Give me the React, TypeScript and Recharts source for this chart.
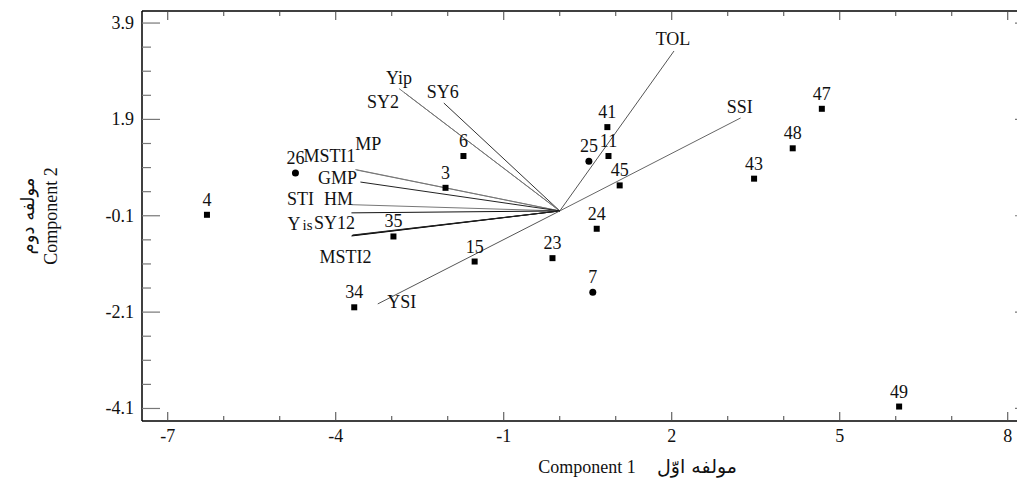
import React from 'react'
import { ScatterChart, Scatter, XAxis, YAxis } from 'recharts'

// genotype scores (component 1 / component 2)
const genotypes = ['4', '26', '6', '3', '35', '15', '23', '34', '41', '25', '11', '45', '24', '7', '43', '48', '47', '49']
const genoPc1 = [-6.3, -4.72, -1.72, -2.04, -2.97, -1.52, -0.13, -3.67, 0.85, 0.52, 0.87, 1.07, 0.66, 0.59, 3.47, 4.16, 4.68, 6.06]
const genoPc2 = [-0.08, 0.79, 1.14, 0.48, -0.53, -1.05, -0.98, -2.0, 1.74, 1.03, 1.14, 0.53, -0.37, -1.69, 0.67, 1.3, 2.12, -4.06]
const roundMarkers = ['26', '25', '7']

// index vectors (loadings)
const traits = ['TOL', 'SSI', 'Yip', 'SY6', 'SY2', 'MP', 'MSTI1', 'GMP', 'HM', 'STI', 'SY12', 'Yis', 'MSTI2', 'YSI']
const traitPc1 = [2.04, 3.23, -2.87, -2.07, -2.78, -3.65, -3.63, -3.56, -3.72, -3.72, -3.72, -3.71, -3.7, -3.25]
const traitPc2 = [3.32, 1.93, 2.54, 2.24, 2.46, 0.86, 0.85, 0.6, 0.13, -0.04, -0.52, -0.51, -0.5, -1.93]

const xTicks = [-7, -6, -5, -4, -3, -2, -1, 0, 1, 2, 3, 4, 5, 6, 7, 8]
const xMajor = [-7, -4, -1, 2, 5, 8]
const yTicks = [-4.1, -3.6, -3.1, -2.6, -2.1, -1.6, -1.1, -0.6, -0.1, 0.4, 0.9, 1.4, 1.9, 2.4, 2.9, 3.4, 3.9]
const yMajor = [-4.1, -2.1, -0.1, 1.9, 3.9]

// label placement (px) relative to the vector tip
const labelShift: Record<string, [number, number]> = {
  TOL: [-1, -6], SSI: [-1, -5], Yip: [0, -5], SY6: [-1, -5], SY2: [-21, 16],
  MP: [13, -20], MSTI1: [-27, -8], GMP: [-23, 2], HM: [-13, 0], STI: [-51, -8],
  SY12: [-17, -7], Yis: [-52, -6], MSTI2: [-7, 28], YSI: [24, 4],
}
const lineColor: Record<string, string> = {
  TOL: '#555', SSI: '#666', Yip: '#777', SY6: '#333', SY2: '#777', MP: '#888',
  MSTI1: '#777', GMP: '#222', HM: '#777', STI: '#111', SY12: '#000', Yis: '#111',
  MSTI2: '#222', YSI: '#555',
}

const serif = "'Liberation Serif', 'Times New Roman', serif"
const arabicFont = "'DejaVu Sans', 'Noto Sans', sans-serif"

const points = genotypes.map((id, i) => ({ id, x: genoPc1[i], y: genoPc2[i] }))
const vectors = traits.map((name, i) => [
  { x: 0, y: 0 },
  { x: traitPc1[i], y: traitPc2[i], name },
])

const BottomTick = (p: any) => {
  const v = p.payload.value
  const major = xMajor.includes(v)
  return (
    <g>
      <line x1={p.x} y1={p.y} x2={p.x} y2={p.y - (major ? 9 : 5)} stroke="#444" />
      {major && (
        <text x={p.x} y={p.y + 21} textAnchor="middle" fontSize={18} fontFamily={serif} fill="#111">
          {v}
        </text>
      )}
    </g>
  )
}

const TopTick = (p: any) => {
  const major = xMajor.includes(p.payload.value)
  return <line x1={p.x} y1={p.y} x2={p.x} y2={p.y + (major ? 9 : 5)} stroke="#444" />
}

const LeftTick = (p: any) => {
  const v = p.payload.value
  const major = yMajor.includes(v)
  return (
    <g>
      <line x1={p.x} y1={p.y} x2={p.x + (major ? 18 : 9)} y2={p.y} stroke="#777" strokeWidth={1.2} />
      {major && (
        <text x={p.x - 8} y={p.y + 6} textAnchor="end" fontSize={18} fontFamily={serif} fill="#111">
          {v}
        </text>
      )}
    </g>
  )
}

const RightTick = (p: any) => {
  const major = yMajor.includes(p.payload.value)
  return <line x1={p.x} y1={p.y} x2={p.x - (major ? 9 : 2)} y2={p.y} stroke="#777" strokeWidth={1.2} />
}

const GenotypeShape = (p: any) => {
  const { cx, cy, payload } = p
  return (
    <g>
      {roundMarkers.includes(payload.id) ? (
        <circle cx={cx} cy={cy} r={3.5} fill="#000" />
      ) : (
        <rect x={cx - 3} y={cy - 3} width={6} height={6} fill="#000" />
      )}
      <text x={cx} y={cy - 9} textAnchor="middle" fontSize={18} fontFamily={serif} fill="#111">
        {payload.id}
      </text>
    </g>
  )
}

const VectorTip = (p: any) => {
  const { cx, cy, payload } = p
  if (!payload.name) return <g />
  const [dx, dy] = labelShift[payload.name]
  const tx = cx + dx
  const ty = cy + dy
  if (payload.name === 'Yis') {
    return (
      <text x={tx} y={ty} textAnchor="middle" fontSize={18} fontFamily={serif} fill="#111">
        Y<tspan fontSize={15} dx={2}>is</tspan>
      </text>
    )
  }
  return (
    <text x={tx} y={ty} textAnchor="middle" fontSize={18} fontFamily={serif} fill="#111">
      {payload.name}
    </text>
  )
}

const XTitle = (p: any) => {
  const vb = p.viewBox
  const y = vb.y + 52
  return (
    <g>
      <text x={579} y={y} textAnchor="middle" fontSize={18} fontFamily={serif} fill="#111">
        Component 1
      </text>
      <text x={689} y={y} textAnchor="middle" fontSize={19} fontFamily={arabicFont} fill="#111">
        مولفه اوّل
      </text>
    </g>
  )
}

const YTitle = (p: any) => {
  const vb = p.viewBox
  const cy = vb.y + vb.height / 2
  return (
    <g>
      <text x={26} y={cy} transform={`rotate(-90 26 ${cy})`} textAnchor="middle" fontSize={18} fontFamily={arabicFont} fill="#111">
        مولفه دوم
      </text>
      <text x={49} y={cy} transform={`rotate(-90 49 ${cy})`} textAnchor="middle" fontSize={18} fontFamily={serif} fill="#111">
        Component 2
      </text>
    </g>
  )
}

export default function App() {
  return (
    <div style={{ width: 1017, height: 471 }}>
      <ScatterChart width={1017} height={471} margin={{ top: 2, right: 0, bottom: 28, left: 84 }}>
        <XAxis
          xAxisId="b"
          type="number"
          dataKey="x"
          domain={[-7.46, 8.29]}
          allowDataOverflow
          ticks={xTicks}
          interval={0}
          tickSize={0}
          tickMargin={0}
          tickLine={false}
          tick={BottomTick}
          axisLine={{ stroke: '#000', strokeWidth: 1.5 }}
          height={30}
          label={{ content: XTitle }}
        />
        <XAxis
          xAxisId="t"
          orientation="top"
          type="number"
          dataKey="x"
          domain={[-7.46, 8.29]}
          allowDataOverflow
          ticks={xTicks}
          interval={0}
          tickSize={0}
          tickMargin={0}
          tickLine={false}
          tick={TopTick}
          axisLine={{ stroke: '#000', strokeWidth: 1.5 }}
          height={1}
        />
        <YAxis
          yAxisId="l"
          type="number"
          dataKey="y"
          domain={[-4.36, 4.15]}
          allowDataOverflow
          ticks={yTicks}
          interval={0}
          tickSize={0}
          tickMargin={0}
          tickLine={false}
          tick={LeftTick}
          axisLine={{ stroke: '#000', strokeWidth: 1.5 }}
          width={50}
          label={{ content: YTitle }}
        />
        <YAxis
          yAxisId="r"
          orientation="right"
          type="number"
          dataKey="y"
          domain={[-4.36, 4.15]}
          allowDataOverflow
          ticks={yTicks}
          interval={0}
          tickSize={0}
          tickMargin={0}
          tickLine={false}
          tick={RightTick}
          axisLine={false}
          width={1}
        />
        {vectors.map((v, i) => (
          <Scatter
            key={traits[i]}
            xAxisId="b"
            yAxisId="l"
            data={v}
            line={{ stroke: lineColor[traits[i]], strokeWidth: 1 }}
            lineType="joint"
            shape={VectorTip}
            isAnimationActive={false}
          />
        ))}
        <Scatter
          xAxisId="b"
          yAxisId="l"
          data={points}
          shape={GenotypeShape}
          isAnimationActive={false}
        />
      </ScatterChart>
    </div>
  )
}
